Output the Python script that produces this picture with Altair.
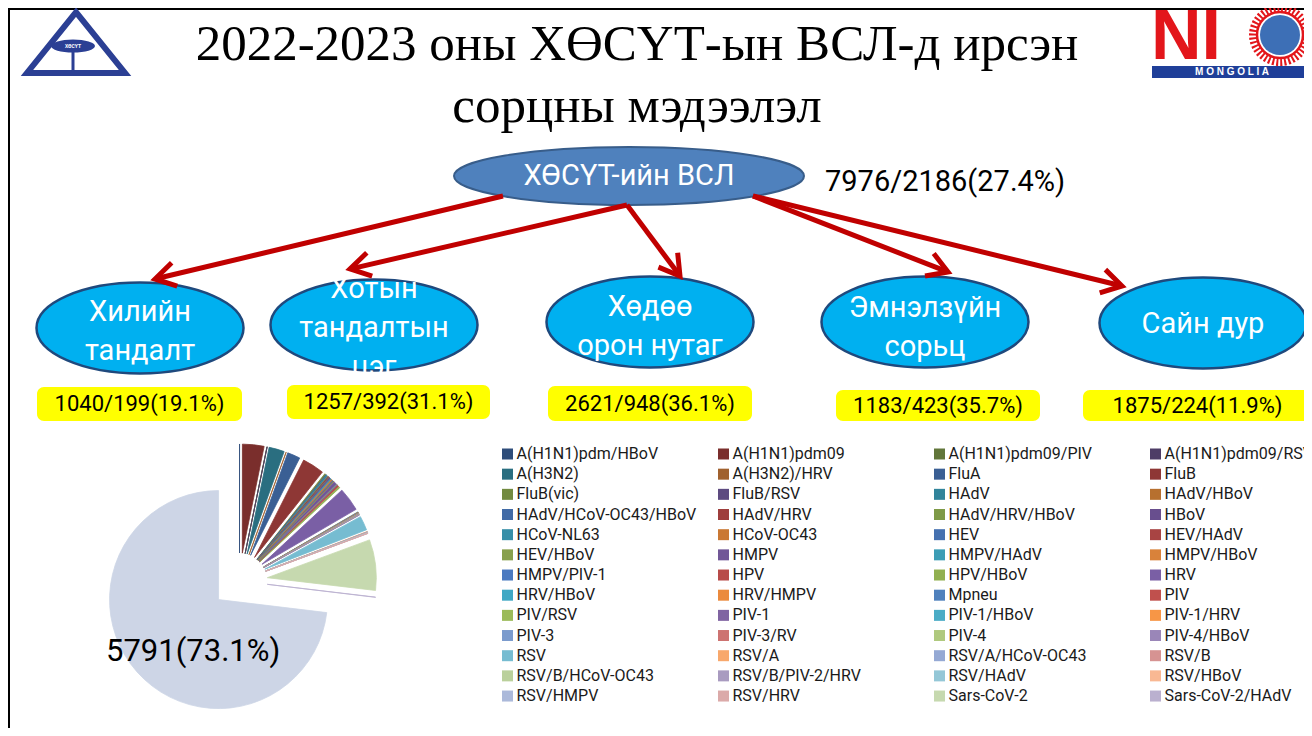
import math
import altair as alt
import pandas as pd
import numpy as np

# ---------------- data ----------------
title_lines = ["2022-2023 оны ХӨСҮТ-ын ВСЛ-д ирсэн", "сорцны мэдээлэл"]
root_label = "ХӨСҮТ-ийн ВСЛ"
root_tested = 7976
root_positive = 2186
root_pct = 27.4

node_labels = [["Хилийн", "тандалт"], ["Хотын", "тандалтын", "цэг"], ["Хөдөө", "орон нутаг"],
               ["Эмнэлзүйн", "сорьц"], ["Сайн дур"]]
node_tested = [1040, 1257, 2621, 1183, 1875]
node_positive = [199, 392, 948, 423, 224]
node_pct = [19.1, 31.1, 36.1, 35.7, 11.9]

pathogens = [
    "A(H1N1)pdm/HBoV", "A(H1N1)pdm09", "A(H1N1)pdm09/PIV", "A(H1N1)pdm09/RSV",
    "A(H3N2)", "A(H3N2)/HRV", "FluA", "FluB",
    "FluB(vic)", "FluB/RSV", "HAdV", "HAdV/HBoV",
    "HAdV/HCoV-OC43/HBoV", "HAdV/HRV", "HAdV/HRV/HBoV", "HBoV",
    "HCoV-NL63", "HCoV-OC43", "HEV", "HEV/HAdV",
    "HEV/HBoV", "HMPV", "HMPV/HAdV", "HMPV/HBoV",
    "HMPV/PIV-1", "HPV", "HPV/HBoV", "HRV",
    "HRV/HBoV", "HRV/HMPV", "Mpneu", "PIV",
    "PIV/RSV", "PIV-1", "PIV-1/HBoV", "PIV-1/HRV",
    "PIV-3", "PIV-3/RV", "PIV-4", "PIV-4/HBoV",
    "RSV", "RSV/A", "RSV/A/HCoV-OC43", "RSV/B",
    "RSV/B/HCoV-OC43", "RSV/B/PIV-2/HRV", "RSV/HAdV", "RSV/HBoV",
    "RSV/HMPV", "RSV/HRV", "Sars-CoV-2", "Sars-CoV-2/HAdV",
]
counts = [
    1, 253, 2, 1,
    180, 2, 150, 257,
    15, 2, 20, 6,
    2, 8, 2, 15,
    12, 14, 10, 3,
    4, 35, 3, 6,
    2, 18, 14, 277,
    3, 2, 3, 2,
    1, 5, 1, 2,
    6, 2, 4, 2,
    167, 4, 1, 5,
    1, 1, 2, 3,
    1, 2, 595, 3,
]
negative_label = "Сөрөг"
negative_count = 5791

colors = [
    "#2E4D7A", "#7A2E2C", "#61763A", "#4E3D66",
    "#2A6E80", "#A0612E", "#3A5F94", "#8E3735",
    "#728A40", "#5D4A80", "#31849B", "#B7702F",
    "#426BA6", "#9E3E3C", "#7E9A47", "#684E8E",
    "#378FA8", "#CA7834", "#4571B0", "#A84443",
    "#88A04C", "#715797", "#3C9DB5", "#D9823A",
    "#4B7AC0", "#B84B49", "#91B050", "#7A5FA5",
    "#40A8C4", "#EB8A3D", "#4F81BD", "#C0504D",
    "#9BBB59", "#8064A2", "#4BACC6", "#F79646",
    "#7B9BCD", "#CD7371", "#AFC97E", "#9A86B8",
    "#76BCD1", "#F8A86C", "#95A9D4", "#D69392",
    "#BAD09B", "#A99BC0", "#94C7D7", "#F9B893",
    "#ABB9DA", "#DBAAA9", "#C6D9AF", "#BAB0CF",
]
negative_color = "#CDD5E6"

# ---------------- layout (reference pixel coordinates) ----------------
W, H = 1296, 720
xs = alt.Scale(domain=[8, 8 + W], nice=False, zero=False)
ys = alt.Scale(domain=[8, 8 + H], nice=False, zero=False, reverse=True)
SANS = "Roboto"

root_center = (629, 176)
root_size = (350, 58)
root_stat_pos = (825, 182)
node_centers = [(140, 328), (374, 325), (650, 322), (925, 322), (1203, 323)]
node_size = (207, 91)
node_text_dy = [3, 3, 4, 5, 1]
node_line_h = 39
box_spans = [(37, 242, 387, 421), (287, 490, 385, 419), (548, 752, 386, 421),
             (836, 1040, 390, 421), (1083, 1312, 390, 421)]
arrow_starts = [(503, 196), (627, 205), (627, 205), (753, 196), (753, 196)]
arrow_tips = [(155, 279), (350, 269), (680, 276), (948, 272), (1122, 286)]

pie_center = (239.5, 581.0)
pie_radius = 109
pie_explode = 28
neg_label_pos = (106, 652)

leg_x0, leg_dx = 507.5, 216
leg_y0, leg_dy = 454, 20.17

def X(f="x"):
    return alt.X(f"{f}:Q", scale=xs, axis=None)

def Y(f="y"):
    return alt.Y(f"{f}:Q", scale=ys, axis=None)

def ellipse_path(k):
    K = 0.5523
    return (f"M 1 0 C 1 {K*k:.4f} {K:.4f} {k:.4f} 0 {k:.4f} "
            f"C {-K:.4f} {k:.4f} -1 {K*k:.4f} -1 0 "
            f"C -1 {-K*k:.4f} {-K:.4f} {-k:.4f} 0 {-k:.4f} "
            f"C {K:.4f} {-k:.4f} 1 {-K*k:.4f} 1 0 Z")

layers = []

# slide border
border = pd.DataFrame({"x": [9], "x2": [1330], "y": [9], "y2": [760]})
layers.append(alt.Chart(border).mark_rect(fillOpacity=0, stroke="black", strokeWidth=2)
              .encode(x=X(), x2="x2:Q", y=Y(), y2="y2:Q"))

# title
tdf = pd.DataFrame({"x": [637, 637], "y": [45, 107], "t": title_lines})
layers.append(alt.Chart(tdf).mark_text(font="Liberation Serif", fontSize=51, color="black",
                                       align="center", baseline="middle")
              .encode(x=X(), y=Y(), text="t:N"))

# arrows geometry
arr = pd.DataFrame({
    "x": [s[0] for s in arrow_starts], "y": [s[1] for s in arrow_starts],
    "tx": [t[0] for t in arrow_tips], "ty": [t[1] for t in arrow_tips],
})
dx = arr.tx - arr.x
dy = arr.ty - arr.y
ln = np.sqrt(dx ** 2 + dy ** 2)
arr["x2"] = arr.tx - 3 * dx / ln
arr["y2"] = arr.ty - 3 * dy / ln
arr["ang"] = (np.degrees(np.arctan2(dy, dx)) + 360) % 360

# root ellipse
rdf = pd.DataFrame({"x": [root_center[0]], "y": [root_center[1]], "t": [root_label]})
layers.append(alt.Chart(rdf).mark_point(shape=ellipse_path(root_size[1] / root_size[0]),
                                        size=root_size[0] ** 2, filled=True, fill="#4F81BD",
                                        stroke="#385D8A", strokeWidth=2, opacity=1)
              .encode(x=X(), y=Y()))
layers.append(alt.Chart(rdf).mark_text(font=SANS, fontSize=29, color="white",
                                       align="center", baseline="middle")
              .encode(x=X(), y=Y(), text="t:N"))
sdf = pd.DataFrame({"x": [root_stat_pos[0]], "y": [root_stat_pos[1]],
                    "t": [f"{root_tested}/{root_positive}({root_pct}%)"]})
layers.append(alt.Chart(sdf).mark_text(font=SANS, fontSize=29, color="black",
                                       align="left", baseline="middle")
              .encode(x=X(), y=Y(), text="t:N"))

# child ellipses
ndf = pd.DataFrame({"x": [c[0] for c in node_centers], "y": [c[1] for c in node_centers]})
layers.append(alt.Chart(ndf).mark_point(shape=ellipse_path(node_size[1] / node_size[0]),
                                        size=node_size[0] ** 2, filled=True, fill="#00B0F0",
                                        stroke="#1F497D", strokeWidth=2.5, opacity=1)
              .encode(x=X(), y=Y()))
rows = []
for (cx, cy), lines, ddy in zip(node_centers, node_labels, node_text_dy):
    n = len(lines)
    for i, line in enumerate(lines):
        rows.append({"x": cx, "y": cy + ddy - (n - 1) * node_line_h / 2 + i * node_line_h, "t": line})
nl = pd.DataFrame(rows)
layers.append(alt.Chart(nl).mark_text(font=SANS, fontSize=29, color="white", align="center",
                                      baseline="middle")
              .encode(x=X(), y=Y(), text="t:N"))

# arrows on top
layers.append(alt.Chart(arr).mark_rule(color="#C00000", strokeWidth=5)
              .encode(x=X(), y=Y(), x2="x2:Q", y2="y2:Q"))
layers.append(alt.Chart(arr).mark_point(shape="M -1 -0.6 L 0 0 L -1 0.6", size=40 ** 2,
                                        filled=False, color="#C00000", strokeWidth=5,
                                        opacity=1, strokeJoin="miter")
              .encode(x=X("tx"), y=Y("ty"), angle=alt.Angle("ang:Q", scale=None)))

# yellow boxes
bdf = pd.DataFrame({"x": [b[0] for b in box_spans], "x2": [b[1] for b in box_spans],
                    "y": [b[2] for b in box_spans], "y2": [b[3] for b in box_spans],
                    "t": [f"{t}/{p}({c}%)" for t, p, c in zip(node_tested, node_positive, node_pct)]})
bdf["cx"] = (bdf.x + bdf.x2) / 2
bdf["cy"] = (bdf.y + bdf.y2) / 2
layers.append(alt.Chart(bdf).mark_rect(color="#FFFF00", cornerRadius=7)
              .encode(x=X(), x2="x2:Q", y=Y(), y2="y2:Q"))
layers.append(alt.Chart(bdf).mark_text(font=SANS, fontSize=22, color="black",
                                       align="center", baseline="middle")
              .encode(x=X("cx"), y=Y("cy"), text="t:N"))

# pie
names = pathogens + [negative_label]
vals = np.array(counts + [negative_count], dtype=float)
total = vals.sum()
end = np.cumsum(vals)
start = end - vals
t0 = 2 * np.pi * start / total
t1 = 2 * np.pi * end / total
mid = (t0 + t1) / 2
pie = pd.DataFrame({
    "name": names, "t0": t0, "t1": t1,
    "x": pie_center[0] + pie_explode * np.sin(mid),
    "y": pie_center[1] - pie_explode * np.cos(mid),
})
cdomain = names
crange = colors + [negative_color]
layers.append(alt.Chart(pie).mark_arc(radius=pie_radius, strokeWidth=0.8)
              .encode(x=X(), y=Y(),
                      theta=alt.Theta("t0:Q", scale=None, stack=False),
                      theta2="t1:Q",
                      color=alt.Color("name:N", scale=alt.Scale(domain=cdomain, range=crange), legend=None),
                      stroke=alt.Stroke("name:N", scale=alt.Scale(domain=cdomain, range=crange), legend=None)))
negdf = pd.DataFrame({"x": [neg_label_pos[0]], "y": [neg_label_pos[1]],
                      "t": [f"{negative_count}({100 * negative_count / total:.1f}%)"]})
layers.append(alt.Chart(negdf).mark_text(font=SANS, fontSize=31, color="black",
                                         align="left", baseline="middle")
              .encode(x=X(), y=Y(), text="t:N"))

# legend (4 columns, row-major)
idx = np.arange(len(pathogens))
leg = pd.DataFrame({"name": pathogens})
leg["x"] = leg_x0 + (idx % 4) * leg_dx
leg["y"] = leg_y0 + (idx // 4) * leg_dy
leg["lx"] = leg["x"] + 9
layers.append(alt.Chart(leg).mark_square(size=121, opacity=1)
              .encode(x=X(), y=Y(),
                      color=alt.Color("name:N", scale=alt.Scale(domain=cdomain, range=crange), legend=None)))
layers.append(alt.Chart(leg).mark_text(font=SANS, fontSize=16, color="#1a1a1a",
                                       align="left", baseline="middle")
              .encode(x=X("lx"), y=Y(), text="name:N"))

# logos (approximate)
tri = pd.DataFrame({"x": [76], "y": [45]})
layers.append(alt.Chart(tri).mark_point(shape="M 0 -0.67 L 1 0.57 L -1 0.57 Z", size=98 ** 2,
                                        filled=False, color="#2B3F94", strokeWidth=6, opacity=1)
              .encode(x=X(), y=Y()))
bowl = pd.DataFrame({"x": [73], "y": [46], "t": ["ХӨСҮТ"]})
layers.append(alt.Chart(bowl).mark_point(shape=ellipse_path(0.3), size=44 ** 2, filled=True,
                                         color="#2B3F94", opacity=1)
              .encode(x=X(), y=Y()))
layers.append(alt.Chart(bowl).mark_text(font=SANS, fontSize=5, color="white", fontWeight="bold")
              .encode(x=X(), y=Y(), text="t:N"))
stem = pd.DataFrame({"x": [73], "y": [50], "y2": [72]})
layers.append(alt.Chart(stem).mark_rule(color="#2B3F94", strokeWidth=3)
              .encode(x=X(), y=Y(), y2="y2:Q"))

nic = pd.DataFrame({"x": [1151], "y": [38], "t": ["NI"]})
layers.append(alt.Chart(nic).mark_text(font="Liberation Sans", fontWeight="bold", fontSize=70,
                                       color="#E3161B", align="left", baseline="middle")
              .encode(x=X(), y=Y(), text="t:N"))
globe = pd.DataFrame({"x": [1280], "y": [35]})
layers.append(alt.Chart(globe).mark_point(shape="circle", size=(2 * 27) ** 2, filled=False,
                                          color="#E3161B", strokeWidth=8, strokeDash=[2, 2], opacity=1)
              .encode(x=X(), y=Y()))
layers.append(alt.Chart(globe).mark_point(shape="circle", size=(2 * 23) ** 2, filled=False,
                                          color="#E3161B", strokeWidth=2.5, opacity=1)
              .encode(x=X(), y=Y()))
layers.append(alt.Chart(globe).mark_point(shape="circle", size=(2 * 20) ** 2, filled=True,
                                          color="#3D6FB6", opacity=1)
              .encode(x=X(), y=Y()))
band = pd.DataFrame({"x": [1152], "x2": [1320], "y": [66], "y2": [78], "cx": [1232], "cy": [72],
                     "t": ["M  O  N  G  O  L  I  A"]})
layers.append(alt.Chart(band).mark_rect(color="#1F3F99").encode(x=X(), x2="x2:Q", y=Y(), y2="y2:Q"))
layers.append(alt.Chart(band).mark_text(font="Liberation Sans", fontWeight="bold", fontSize=10,
                                        color="white", align="center", baseline="middle")
              .encode(x=X("cx"), y=Y("cy"), text="t:N"))

chart = alt.layer(*layers).properties(
    width=W, height=H, autosize=alt.AutoSizeParams(type="none"), padding=0
).configure_view(strokeWidth=0)

chart.save("out.html", embed_options={"renderer": "svg", "actions": False})
